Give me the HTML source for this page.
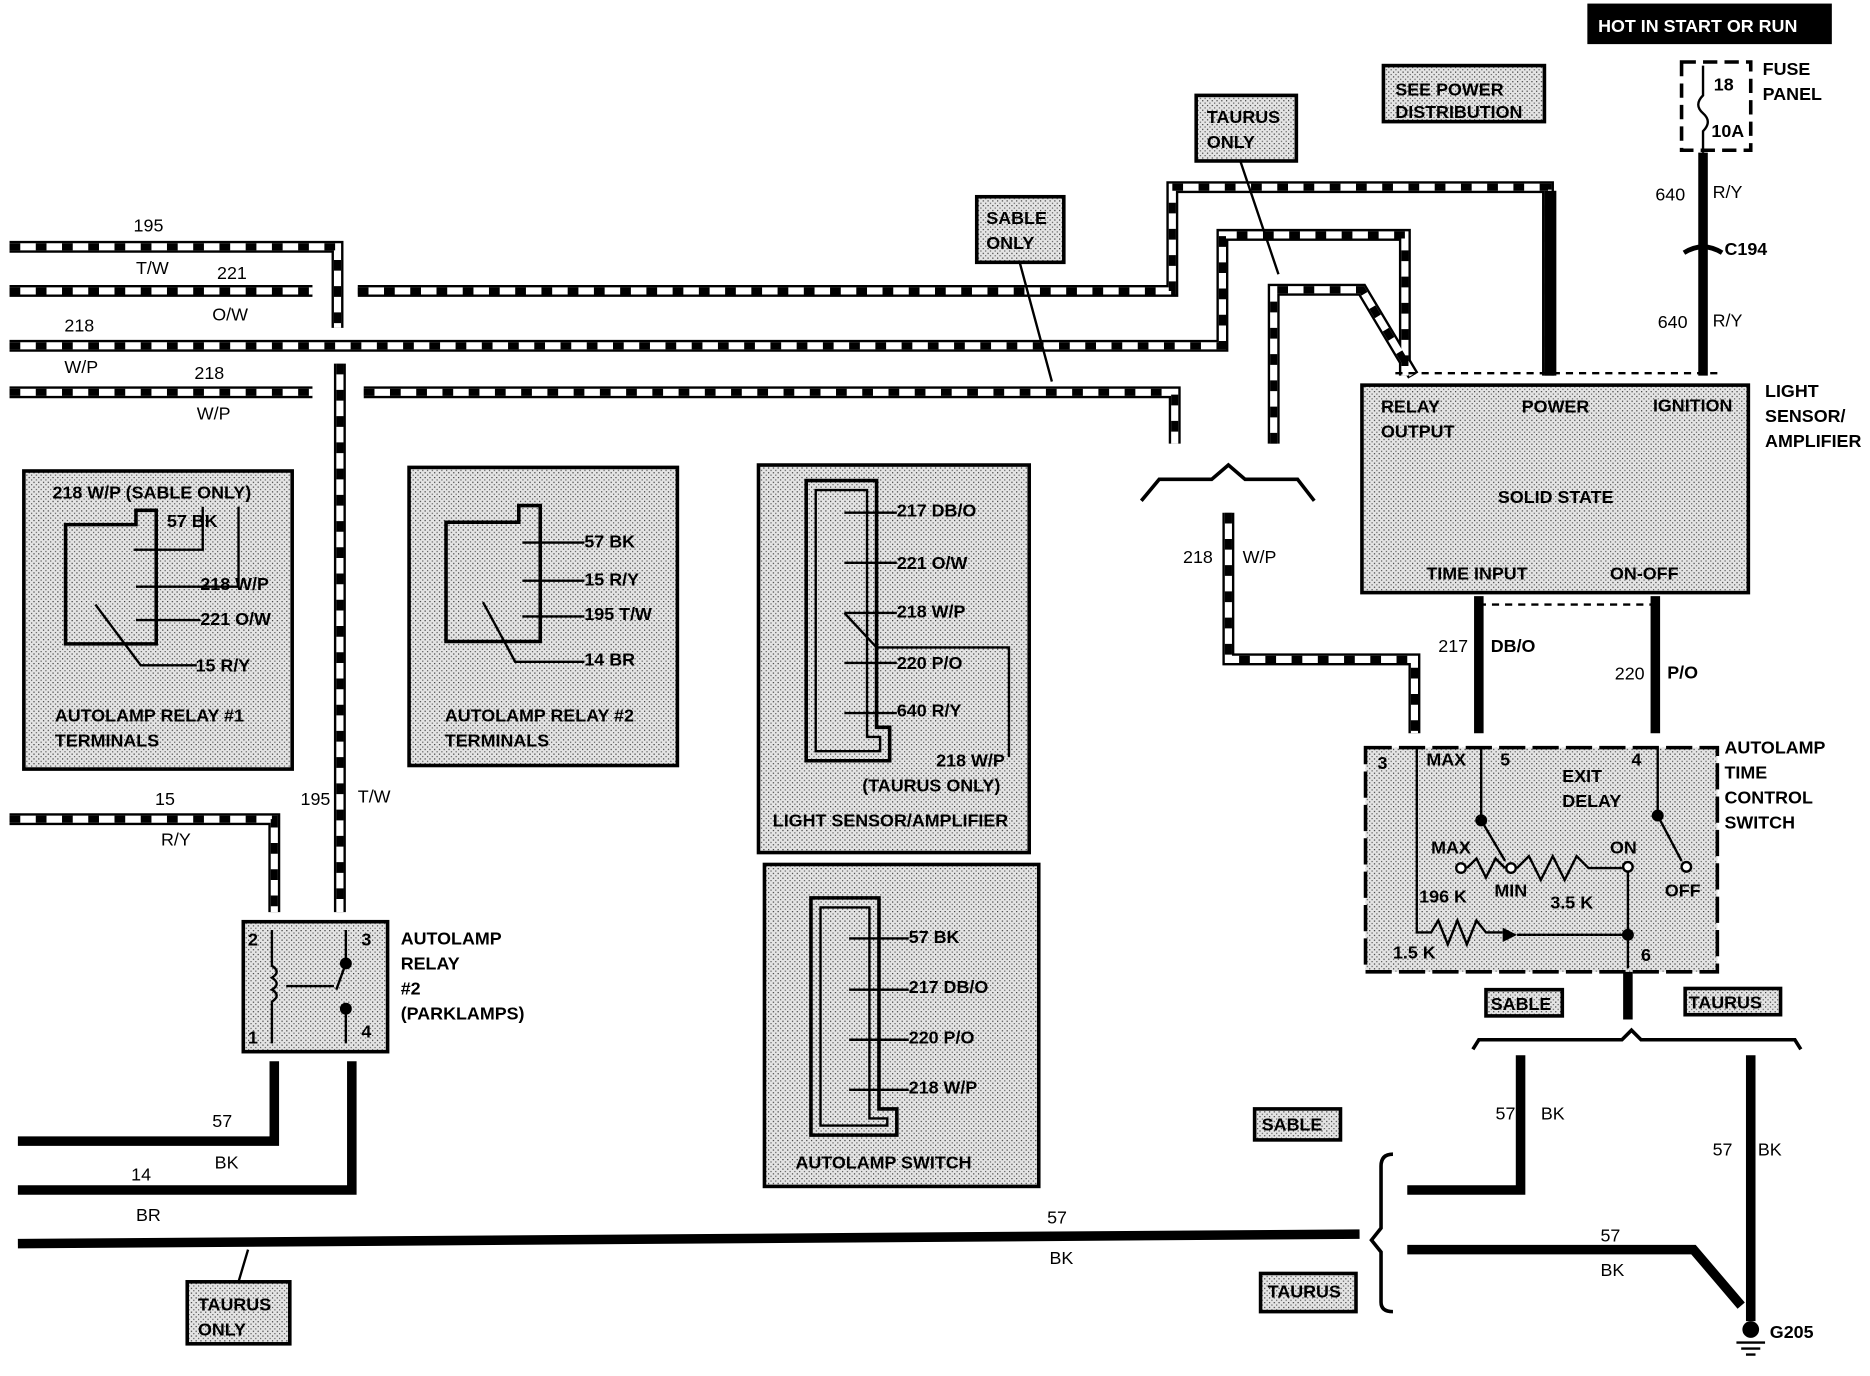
<!DOCTYPE html>
<html><head><meta charset="utf-8"><style>
html,body{margin:0;padding:0;background:#fff;}
svg{display:block;}
text{font-family:"Liberation Sans",sans-serif;font-weight:bold;font-size:15px;fill:#000;}
.n{font-weight:normal;}
</style></head><body>
<svg width="1870" height="1376" viewBox="0 0 1568 1154" preserveAspectRatio="none" xmlns="http://www.w3.org/2000/svg">
<defs>
<pattern id="g" width="4" height="4" patternUnits="userSpaceOnUse"><rect width="4" height="4" fill="#e4e4e4"/><rect width="1" height="1" fill="#333"/><rect x="2" y="2" width="1" height="1" fill="#555"/></pattern>
</defs>
<g fill="none" stroke-linejoin="miter">
<g id="wires" stroke="#000" stroke-width="10">
<path d="M8 207H283V275"/>
<path d="M8 244H262M300 244H983V157H1298V315"/>
<path d="M8 290H1025V197H1178V315"/>
<path d="M8 329H262M305 329H985V372"/>
<path d="M285 305V765"/>
<path d="M1068 372V243H1142L1185 315"/>
<path d="M1030 430V553H1186V615"/>
<path d="M8 687H230V765"/>
</g>
<g stroke="#fff" stroke-width="6">
<path d="M8 207H283V275"/>
<path d="M8 244H262M300 244H983V157H1298V315"/>
<path d="M8 290H1025V197H1178V315"/>
<path d="M8 329H262M305 329H985V372"/>
<path d="M285 305V765"/>
<path d="M1068 372V243H1142L1185 315"/>
<path d="M1030 430V553H1186V615"/>
<path d="M8 687H230V765"/>
</g>
<g stroke="#000" stroke-width="6" stroke-dasharray="9 13">
<path d="M8 207H283V275"/>
<path d="M8 244H262M300 244H983V157H1298V315"/>
<path d="M8 290H1025V197H1178V315"/>
<path d="M8 329H262M305 329H985V372"/>
<path d="M285 305V765"/>
<path d="M1068 372V243H1142L1185 315"/>
<path d="M1030 430V553H1186V615"/>
<path d="M8 687H230V765"/>
</g>
<g stroke="#000" stroke-width="8">
<path d="M1428 128V315"/>
<path d="M1240 500V615"/>
<path d="M1388 500V615"/>
<path d="M230 890V957H15"/>
<path d="M295 890V998H15"/>
<path d="M15 1043L1140 1035"/>
<path d="M1275 885V998H1180"/>
<path d="M1180 1048H1420L1460 1095"/>
<path d="M1468 885V1108"/>
<path d="M1365 815V855"/>
</g>
<path d="M1300 160V315" stroke="#000" stroke-width="10"/>
</g>
<g stroke="#000" stroke-width="3" fill="url(#g)">
<rect x="1142" y="323" width="324" height="174"/>
<rect x="1145" y="627" width="295" height="188" stroke-dasharray="22 6"/>
<rect x="204" y="773" width="121" height="109"/>
<rect x="20" y="395" width="225" height="250"/>
<rect x="343" y="392" width="225" height="250"/>
<rect x="636" y="390" width="227" height="325"/>
<rect x="641" y="725" width="230" height="270"/>
<rect x="1160" y="55" width="135" height="47"/>
<rect x="1003" y="80" width="84" height="55"/>
<rect x="819" y="165" width="73" height="55"/>
<rect x="1246" y="830" width="64" height="22"/>
<rect x="1413" y="829" width="80" height="22"/>
<rect x="1052" y="930" width="72" height="26"/>
<rect x="1057" y="1068" width="80" height="32"/>
<rect x="157" y="1075" width="86" height="52"/>
</g>
<rect x="1331" y="3" width="205" height="34" fill="#000"/>
<text x="1340" y="27" style="fill:#fff">HOT IN START OR RUN</text>
<rect x="1410" y="52" width="58" height="74" fill="#fff" stroke="#000" stroke-width="3" stroke-dasharray="12 6"/>
<text x="1437" y="76">18</text><text x="1435" y="115">10A</text>
<path d="M1428 55V80Q1420 88 1428 95Q1436 102 1428 110V128" stroke="#000" stroke-width="2" fill="none"/>
<text x="1478" y="63">FUSE</text><text x="1478" y="84">PANEL</text>
<text x="1388" y="168" class="n">640</text><text x="1436" y="166" class="n">R/Y</text>
<text x="1446" y="214">C194</text>
<path d="M1412 212Q1428 202 1444 212" stroke="#000" stroke-width="4" fill="none"/>
<text x="1390" y="275" class="n">640</text><text x="1436" y="274" class="n">R/Y</text>
<text x="1170" y="80">SEE POWER</text><text x="1170" y="99">DISTRIBUTION</text>
<text x="1012" y="103">TAURUS</text><text x="1012" y="124">ONLY</text>
<text x="827" y="188">SABLE</text><text x="827" y="209">ONLY</text>
<path d="M1040 135L1072 230M855 220L882 320" stroke="#000" stroke-width="2"/>
<text x="1158" y="346">RELAY</text><text x="1158" y="367">OUTPUT</text>
<text x="1276" y="346">POWER</text><text x="1386" y="345">IGNITION</text>
<text x="1256" y="422">SOLID STATE</text>
<text x="1196" y="486">TIME INPUT</text><text x="1350" y="486">ON-OFF</text>
<text x="1480" y="333">LIGHT</text><text x="1480" y="354">SENSOR/</text><text x="1480" y="375">AMPLIFIER</text>
<path d="M1170 313H1440M1240 507H1390" stroke="#000" stroke-width="2" stroke-dasharray="6 5"/>
<path d="M957 420L972 402H1016L1030 390L1044 402H1088L1102 420" stroke="#000" stroke-width="3" fill="none"/>
<text x="992" y="472" class="n">218</text><text x="1042" y="472" class="n">W/P</text>
<text x="1206" y="547" class="n">217</text><text x="1250" y="547">DB/O</text>
<text x="1354" y="570" class="n">220</text><text x="1398" y="569">P/O</text>
<text x="1155" y="645">3</text><text x="1196" y="642">MAX</text><text x="1258" y="642">5</text><text x="1368" y="642">4</text>
<text x="1310" y="656">EXIT</text><text x="1310" y="677">DELAY</text>
<text x="1200" y="716">MAX</text><text x="1350" y="716">ON</text>
<text x="1190" y="757">196 K</text><text x="1253" y="752">MIN</text><text x="1300" y="762">3.5 K</text><text x="1396" y="752">OFF</text>
<text x="1168" y="804">1.5 K</text><text x="1376" y="806">6</text>
<g stroke="#000" stroke-width="2" fill="none">
<path d="M1188 628V782H1200L1206 772L1214 792L1222 772L1230 792L1238 772L1246 782H1260M1272 784H1365V723M1365 784V812"/>
<path d="M1242 628V688L1262 722M1390 628V684L1410 722"/>
<path d="M1230 728L1238 720L1246 736L1254 720L1262 728M1272 728L1282 718L1292 738L1302 718L1312 738L1322 718L1332 728H1360"/>
<circle cx="1225" cy="728" r="4" fill="#fff"/><circle cx="1267" cy="728" r="4" fill="#fff"/><circle cx="1365" cy="727" r="4" fill="#fff"/><circle cx="1414" cy="727" r="4" fill="#fff"/>
</g>
<circle cx="1242" cy="688" r="5"/><circle cx="1390" cy="684" r="5"/><circle cx="1365" cy="784" r="5"/>
<path d="M1260 778V790L1272 784Z"/>
<text x="1446" y="632">AUTOLAMP</text><text x="1446" y="653">TIME</text><text x="1446" y="674">CONTROL</text><text x="1446" y="695">SWITCH</text>
<path d="M1235 880L1240 872H1360L1368 864L1376 872H1505L1510 880" stroke="#000" stroke-width="3" fill="none"/>
<text x="1250" y="847">SABLE</text><text x="1416" y="846">TAURUS</text>
<text x="1254" y="939" class="n">57</text><text x="1292" y="939" class="n">BK</text>
<text x="1436" y="969" class="n">57</text><text x="1474" y="969" class="n">BK</text>
<text x="1342" y="1041" class="n">57</text><text x="1342" y="1070" class="n">BK</text>
<text x="1058" y="948">SABLE</text><text x="1063" y="1088">TAURUS</text>
<path d="M1168 968Q1158 968 1158 978V1030L1150 1040L1158 1050V1092Q1158 1100 1168 1100" stroke="#000" stroke-width="3" fill="none"/>
<circle cx="1468" cy="1115" r="7"/><path d="M1456 1126H1480M1460 1131H1476M1464 1136H1472" stroke="#000" stroke-width="2"/>
<text x="1484" y="1122">G205</text>
<text x="112" y="194" class="n">195</text><text x="114" y="230" class="n">T/W</text>
<text x="182" y="234" class="n">221</text><text x="178" y="269" class="n">O/W</text>
<text x="54" y="278" class="n">218</text><text x="54" y="313" class="n">W/P</text>
<text x="163" y="318" class="n">218</text><text x="165" y="352" class="n">W/P</text>
<text x="130" y="675" class="n">15</text><text x="135" y="709" class="n">R/Y</text>
<text x="252" y="675" class="n">195</text><text x="300" y="673" class="n">T/W</text>
<text x="178" y="945" class="n">57</text><text x="180" y="980" class="n">BK</text>
<text x="110" y="990" class="n">14</text><text x="114" y="1024" class="n">BR</text>
<text x="878" y="1026" class="n">57</text><text x="880" y="1060" class="n">BK</text>
<text x="166" y="1099">TAURUS</text><text x="166" y="1120">ONLY</text>
<path d="M200 1075L208 1048" stroke="#000" stroke-width="2"/>
<text x="208" y="793">2</text><text x="303" y="793">3</text><text x="208" y="875">1</text><text x="303" y="870">4</text>
<g stroke="#000" stroke-width="2" fill="none">
<path d="M228 780V810Q236 815 228 820Q236 825 228 830Q236 835 228 840V875"/>
<path d="M290 780V808L282 830M290 846V875M240 827H280" />
</g>
<circle cx="290" cy="808" r="5"/><circle cx="290" cy="846" r="5"/>
<text x="336" y="792">AUTOLAMP</text><text x="336" y="813">RELAY</text><text x="336" y="834">#2</text><text x="336" y="855">(PARKLAMPS)</text>
<g stroke="#000" stroke-width="3" fill="none">
<path d="M55 440H114V428H131V540H55Z"/>
<path d="M112 461H170V425M114 492H200V425M114 520H168M80 507L118 558H165" stroke-width="2"/>
</g>
<text x="44" y="418">218 W/P (SABLE ONLY)</text>
<text x="140" y="442">57 BK</text><text x="168" y="495">218 W/P</text><text x="168" y="524">221 O/W</text><text x="164" y="563">15 R/Y</text>
<text x="46" y="605">AUTOLAMP RELAY #1</text><text x="46" y="626">TERMINALS</text>
<g stroke="#000" stroke-width="3" fill="none">
<path d="M374 438H435V424H453V538H374Z"/>
<path d="M438 455H490M438 487H490M438 517H490M405 505L432 555H490" stroke-width="2"/>
</g>
<text x="490" y="459">57 BK</text><text x="490" y="491">15 R/Y</text><text x="490" y="520">195 T/W</text><text x="490" y="558">14 BR</text>
<text x="373" y="605">AUTOLAMP RELAY #2</text><text x="373" y="626">TERMINALS</text>
<g stroke="#000" stroke-width="3" fill="none">
<path d="M676 403H735V610H746V638H676Z"/><path d="M684 411H727V618H738V630H684Z" stroke-width="2"/>
<path d="M708 430H752M708 472H752M708 514H752M708 556H752M708 598H752M735 543H846V635" stroke-width="2"/>
<path d="M708 514L735 543" stroke-width="2"/>
</g>
<text x="752" y="433">217 DB/O</text><text x="752" y="477">221 O/W</text><text x="752" y="518">218 W/P</text><text x="752" y="561">220 P/O</text><text x="752" y="601">640 R/Y</text>
<text x="785" y="643">218 W/P</text><text x="723" y="664">(TAURUS ONLY)</text>
<text x="648" y="693">LIGHT SENSOR/AMPLIFIER</text>
<g stroke="#000" stroke-width="3" fill="none">
<path d="M680 753H737V930H752V952H680Z"/><path d="M688 761H729V938H744V944H688Z" stroke-width="2"/>
<path d="M712 787H762M712 830H762M712 872H762M712 914H762" stroke-width="2"/>
</g>
<text x="762" y="791">57 BK</text><text x="762" y="833">217 DB/O</text><text x="762" y="875">220 P/O</text><text x="762" y="917">218 W/P</text>
<text x="667" y="980">AUTOLAMP SWITCH</text>
</svg>
</body></html>
